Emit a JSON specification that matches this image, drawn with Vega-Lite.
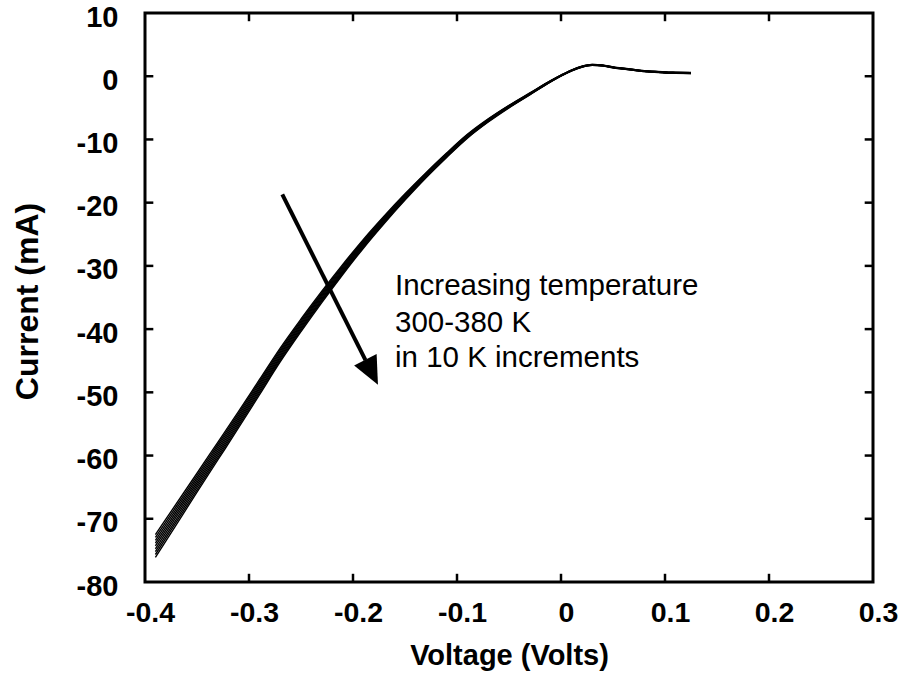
{
  "$schema": "https://vega.github.io/schema/vega-lite/v6.json",
  "width": 728,
  "height": 569,
  "autosize": {"type": "none"},
  "padding": {"left": 145, "top": 13, "right": 30, "bottom": 104},
  "background": "white",
  "config": {
    "view": {"stroke": "black", "strokeWidth": 3},
    "font": "Liberation Sans"
  },
  "datasets": {
    "curves": [
      {"V": -0.39, "T300": -72.5, "T310": -72.95, "T320": -73.4, "T330": -73.85, "T340": -74.3, "T350": -74.75, "T360": -75.2, "T370": -75.65, "T380": -76.1},
      {"V": -0.37, "T300": -67.65, "T310": -68.06, "T320": -68.48, "T330": -68.89, "T340": -69.3, "T350": -69.71, "T360": -70.13, "T370": -70.54, "T380": -70.95},
      {"V": -0.35, "T300": -62.8, "T310": -63.18, "T320": -63.55, "T330": -63.93, "T340": -64.3, "T350": -64.68, "T360": -65.05, "T370": -65.43, "T380": -65.8},
      {"V": -0.33, "T300": -57.9, "T310": -58.25, "T320": -58.6, "T330": -58.95, "T340": -59.3, "T350": -59.65, "T360": -60.0, "T370": -60.35, "T380": -60.7},
      {"V": -0.31, "T300": -53.0, "T310": -53.33, "T320": -53.65, "T330": -53.98, "T340": -54.3, "T350": -54.63, "T360": -54.95, "T370": -55.28, "T380": -55.6},
      {"V": -0.29, "T300": -48.0, "T310": -48.3, "T320": -48.6, "T330": -48.9, "T340": -49.2, "T350": -49.5, "T360": -49.8, "T370": -50.1, "T380": -50.4},
      {"V": -0.27, "T300": -43.0, "T310": -43.28, "T320": -43.55, "T330": -43.83, "T340": -44.1, "T350": -44.38, "T360": -44.65, "T370": -44.93, "T380": -45.2},
      {"V": -0.25, "T300": -38.4, "T310": -38.65, "T320": -38.9, "T330": -39.15, "T340": -39.4, "T350": -39.65, "T360": -39.9, "T370": -40.15, "T380": -40.4},
      {"V": -0.23, "T300": -34.0, "T310": -34.23, "T320": -34.45, "T330": -34.68, "T340": -34.9, "T350": -35.13, "T360": -35.35, "T370": -35.58, "T380": -35.8},
      {"V": -0.21, "T300": -29.8, "T310": -30.0, "T320": -30.2, "T330": -30.4, "T340": -30.6, "T350": -30.8, "T360": -31.0, "T370": -31.2, "T380": -31.4},
      {"V": -0.19, "T300": -25.8, "T310": -25.98, "T320": -26.15, "T330": -26.33, "T340": -26.5, "T350": -26.68, "T360": -26.85, "T370": -27.03, "T380": -27.2},
      {"V": -0.17, "T300": -22.1, "T310": -22.25, "T320": -22.4, "T330": -22.55, "T340": -22.7, "T350": -22.85, "T360": -23.0, "T370": -23.15, "T380": -23.3},
      {"V": -0.15, "T300": -18.6, "T310": -18.73, "T320": -18.85, "T330": -18.98, "T340": -19.1, "T350": -19.23, "T360": -19.35, "T370": -19.48, "T380": -19.6},
      {"V": -0.13, "T300": -15.3, "T310": -15.4, "T320": -15.5, "T330": -15.6, "T340": -15.7, "T350": -15.8, "T360": -15.9, "T370": -16.0, "T380": -16.1},
      {"V": -0.11, "T300": -12.15, "T310": -12.24, "T320": -12.33, "T330": -12.41, "T340": -12.5, "T350": -12.59, "T360": -12.68, "T370": -12.76, "T380": -12.85},
      {"V": -0.09, "T300": -9.2, "T310": -9.28, "T320": -9.35, "T330": -9.43, "T340": -9.5, "T350": -9.58, "T360": -9.65, "T370": -9.73, "T380": -9.8},
      {"V": -0.07, "T300": -6.75, "T310": -6.81, "T320": -6.88, "T330": -6.94, "T340": -7.0, "T350": -7.06, "T360": -7.13, "T370": -7.19, "T380": -7.25},
      {"V": -0.05, "T300": -4.6, "T310": -4.65, "T320": -4.7, "T330": -4.75, "T340": -4.8, "T350": -4.85, "T360": -4.9, "T370": -4.95, "T380": -5.0},
      {"V": -0.03, "T300": -2.65, "T310": -2.69, "T320": -2.73, "T330": -2.76, "T340": -2.8, "T350": -2.84, "T360": -2.88, "T370": -2.91, "T380": -2.95},
      {"V": -0.01, "T300": -0.7, "T310": -0.73, "T320": -0.75, "T330": -0.78, "T340": -0.8, "T350": -0.83, "T360": -0.85, "T370": -0.88, "T380": -0.9},
      {"V": 0.0, "T300": 0.18, "T310": 0.16, "T320": 0.14, "T330": 0.12, "T340": 0.1, "T350": 0.08, "T360": 0.06, "T370": 0.04, "T380": 0.02},
      {"V": 0.01, "T300": 0.98, "T310": 0.96, "T320": 0.94, "T330": 0.92, "T340": 0.9, "T350": 0.88, "T360": 0.86, "T370": 0.84, "T380": 0.82},
      {"V": 0.02, "T300": 1.58, "T310": 1.56, "T320": 1.54, "T330": 1.52, "T340": 1.5, "T350": 1.48, "T360": 1.46, "T370": 1.44, "T380": 1.42},
      {"V": 0.03, "T300": 1.88, "T310": 1.86, "T320": 1.84, "T330": 1.82, "T340": 1.8, "T350": 1.78, "T360": 1.76, "T370": 1.74, "T380": 1.72},
      {"V": 0.04, "T300": 1.78, "T310": 1.76, "T320": 1.74, "T330": 1.72, "T340": 1.7, "T350": 1.68, "T360": 1.66, "T370": 1.64, "T380": 1.62},
      {"V": 0.05, "T300": 1.48, "T310": 1.46, "T320": 1.44, "T330": 1.42, "T340": 1.4, "T350": 1.38, "T360": 1.36, "T370": 1.34, "T380": 1.32},
      {"V": 0.06, "T300": 1.28, "T310": 1.26, "T320": 1.24, "T330": 1.22, "T340": 1.2, "T350": 1.18, "T360": 1.16, "T370": 1.14, "T380": 1.12},
      {"V": 0.07, "T300": 1.08, "T310": 1.06, "T320": 1.04, "T330": 1.02, "T340": 1.0, "T350": 0.98, "T360": 0.96, "T370": 0.94, "T380": 0.92},
      {"V": 0.08, "T300": 0.88, "T310": 0.86, "T320": 0.84, "T330": 0.82, "T340": 0.8, "T350": 0.78, "T360": 0.76, "T370": 0.74, "T380": 0.72},
      {"V": 0.09, "T300": 0.78, "T310": 0.76, "T320": 0.74, "T330": 0.72, "T340": 0.7, "T350": 0.68, "T360": 0.66, "T370": 0.64, "T380": 0.62},
      {"V": 0.1, "T300": 0.68, "T310": 0.66, "T320": 0.64, "T330": 0.62, "T340": 0.6, "T350": 0.58, "T360": 0.56, "T370": 0.54, "T380": 0.52},
      {"V": 0.11, "T300": 0.63, "T310": 0.61, "T320": 0.59, "T330": 0.57, "T340": 0.55, "T350": 0.53, "T360": 0.51, "T370": 0.49, "T380": 0.47},
      {"V": 0.125, "T300": 0.58, "T310": 0.56, "T320": 0.54, "T330": 0.52, "T340": 0.5, "T350": 0.48, "T360": 0.46, "T370": 0.44, "T380": 0.42}
    ],
    "labels": [
      {"V": -0.1596, "I": -34.66, "text": "Increasing temperature"},
      {"V": -0.1596, "I": -40.5, "text": "300-380 K"},
      {"V": -0.1596, "I": -46.0, "text": "in 10 K increments"}
    ],
    "arrow": [
      {"V1": -0.268, "I1": -18.7, "V2": -0.188, "I2": -44.9}
    ],
    "head": [
      {"V": -0.176, "I": -48.8}
    ],
    "xticks": [
      {"V": -0.3}, {"V": -0.2}, {"V": -0.1}, {"V": 0}, {"V": 0.1}, {"V": 0.2}
    ],
    "yticks": [
      {"I": -70}, {"I": -60}, {"I": -50}, {"I": -40}, {"I": -30}, {"I": -20}, {"I": -10}, {"I": 0}
    ]
  },
  "resolve": {"axis": {"x": "independent", "y": "independent"}},
  "layer": [
    {
      "data": {"name": "curves"},
      "transform": [{"fold": ["T300", "T310", "T320", "T330", "T340", "T350", "T360", "T370", "T380"], "as": ["T", "I"]}],
      "mark": {"type": "line", "color": "black", "strokeWidth": 1.4, "interpolate": "monotone"},
      "encoding": {
        "x": {
          "field": "V", "type": "quantitative",
          "scale": {"domain": [-0.4, 0.3], "nice": false, "zero": false},
          "axis": {
            "orient": "bottom",
            "values": [-0.4, -0.3, -0.2, -0.1, 0, 0.1, 0.2, 0.3],
            "labelExpr": "'' + round(datum.value * 10) / 10",
            "domain": false, "grid": false, "ticks": false,
            "labelPadding": 16, "labelOffset": 5, "labelFontSize": 28.5, "labelFontWeight": "bold", "labelColor": "black",
            "labelFlush": false, "labelOverlap": false,
            "title": "Voltage (Volts)", "titleFontSize": 29, "titleFontWeight": "bold", "titleColor": "black", "titlePadding": 15
          }
        },
        "y": {
          "field": "I", "type": "quantitative",
          "scale": {"domain": [-80, 10], "nice": false, "zero": false},
          "axis": {
            "orient": "left",
            "values": [-80, -70, -60, -50, -40, -30, -20, -10, 0, 10],
            "labelExpr": "'' + datum.value",
            "domain": false, "grid": false, "ticks": false,
            "labelPadding": 27, "labelOffset": 4, "labelFontSize": 29, "labelFontWeight": "bold", "labelColor": "black",
            "labelFlush": false, "labelOverlap": false,
            "title": "Current (mA)", "titleFontSize": 32, "titleFontWeight": "bold", "titleColor": "black",
            "titleX": -101, "titleY": 288
          }
        },
        "detail": {"field": "T", "type": "nominal"}
      }
    },
    {
      "data": {"name": "xticks"},
      "mark": {"type": "rule", "color": "black", "strokeWidth": 2.5},
      "encoding": {
        "x": {"field": "V", "type": "quantitative", "axis": null},
        "y": {"datum": -80, "type": "quantitative", "axis": null},
        "y2": {"datum": -78.7}
      }
    },
    {
      "data": {"name": "xticks"},
      "mark": {"type": "rule", "color": "black", "strokeWidth": 2.5},
      "encoding": {
        "x": {"field": "V", "type": "quantitative", "axis": null},
        "y": {"datum": 10, "type": "quantitative", "axis": null},
        "y2": {"datum": 8.7}
      }
    },
    {
      "data": {"name": "yticks"},
      "mark": {"type": "rule", "color": "black", "strokeWidth": 2.5},
      "encoding": {
        "y": {"field": "I", "type": "quantitative", "axis": null},
        "x": {"datum": -0.4, "type": "quantitative", "axis": null},
        "x2": {"datum": -0.392}
      }
    },
    {
      "data": {"name": "yticks"},
      "mark": {"type": "rule", "color": "black", "strokeWidth": 2.5},
      "encoding": {
        "y": {"field": "I", "type": "quantitative", "axis": null},
        "x": {"datum": 0.3, "type": "quantitative", "axis": null},
        "x2": {"datum": 0.292}
      }
    },
    {
      "data": {"name": "labels"},
      "mark": {"type": "text", "align": "left", "baseline": "alphabetic", "fontSize": 29.5, "font": "Liberation Sans", "color": "black"},
      "encoding": {
        "x": {"field": "V", "type": "quantitative", "axis": null},
        "y": {"field": "I", "type": "quantitative", "axis": null},
        "text": {"field": "text"}
      }
    },
    {
      "data": {"name": "arrow"},
      "mark": {"type": "rule", "color": "black", "strokeWidth": 4},
      "encoding": {
        "x": {"field": "V1", "type": "quantitative", "axis": null},
        "y": {"field": "I1", "type": "quantitative", "axis": null},
        "x2": {"field": "V2"},
        "y2": {"field": "I2"}
      }
    },
    {
      "data": {"name": "head"},
      "mark": {"type": "point", "shape": "M0,0L-0.9,-2L0.9,-2Z", "size": 784, "filled": true, "color": "black", "opacity": 1, "angle": 333.3, "strokeWidth": 0},
      "encoding": {
        "x": {"field": "V", "type": "quantitative", "axis": null},
        "y": {"field": "I", "type": "quantitative", "axis": null}
      }
    }
  ]
}
